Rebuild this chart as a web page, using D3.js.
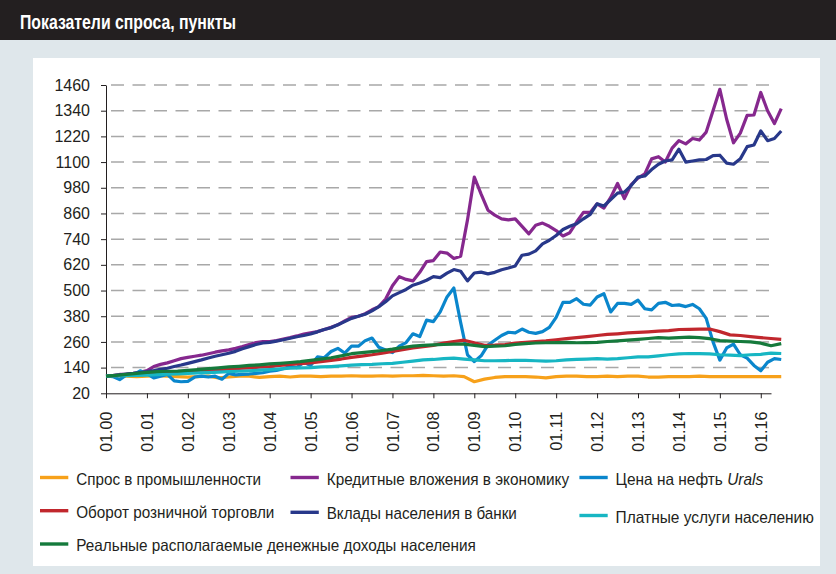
<!DOCTYPE html>
<html>
<head>
<meta charset="utf-8">
<script src="https://cdn.jsdelivr.net/npm/d3@7"></script>
<style>
  body { margin: 0; background: #fff; }
  svg { display: block; }
</style>
</head>
<body>
<script>
// tick labels
var xTickLabels = ["01.00","01.01","01.02","01.03","01.04","01.05","01.06","01.07","01.08",
                   "01.09","01.10","01.11","01.12","01.13","01.14","01.15","01.16"];
var yTicks = [20,140,260,380,500,620,740,860,980,1100,1220,1340,1460];

// quarterly values, Jan 2000 .. Jul 2016
var industryDemand = [100,102,100,98,100,102,100,98,96,98,
  100,92,96,100,100,94,98,100,96,100,
  100,98,100,100,102,100,100,102,100,102,
  102,104,102,100,102,98,74,86,94,98,
  98,98,96,92,98,100,100,98,98,100,
  98,100,100,96,96,98,98,98,100,98,
  98,98,98,98,98,98,98];
var retailTurnover = [100,102,104,106,109,112,114,117,120,123,
  126,130,133,136,139,142,145,150,155,158,
  162,168,174,180,188,194,200,208,216,224,
  232,238,244,255,262,268,256,244,245,248,
  254,258,262,265,270,275,280,285,290,295,
  298,302,305,307,310,313,318,319,320,320,
  308,293,290,285,280,276,272];
var paidServices = [100,101,103,104,105,107,109,111,113,115,
  117,119,121,123,125,128,131,134,137,139,
  140,143,145,148,152,154,155,158,160,165,
  170,176,178,182,184,180,176,172,172,173,
  174,174,172,170,172,176,178,180,182,180,
  182,186,190,190,195,200,204,206,205,204,
  200,198,196,200,202,208,206];
var realIncome = [100,104,108,113,118,121,123,124,127,131,
  135,139,143,146,150,153,157,160,164,168,
  174,180,186,195,205,210,215,220,226,234,
  240,244,246,248,250,250,244,238,240,242,
  248,252,255,256,257,258,256,257,258,262,
  265,268,272,276,280,278,280,282,280,275,
  266,264,262,260,254,242,252];

// every second month, Jan 2000 .. Jul 2016
var creditToEconomy = [100,103,108,110,113,118,126,145,155,162,
  172,182,188,193,198,205,212,218,223,230,
  238,248,257,261,262,266,273,280,288,297,
  303,308,318,328,340,358,375,380,392,410,
  425,460,522,565,552,545,585,635,640,680,
  675,650,660,830,1030,950,875,852,835,830,
  835,800,765,805,815,800,780,755,770,820,
  865,865,905,885,935,1000,930,995,1025,1045,
  1115,1125,1100,1165,1200,1185,1210,1203,1240,1340,
  1440,1300,1190,1235,1318,1320,1425,1340,1280,1350];
var householdDeposits = [100,103,106,110,113,117,121,126,132,137,
  145,152,160,168,176,185,193,200,207,216,
  228,238,248,255,258,264,270,277,284,290,
  297,307,318,326,340,355,370,380,389,405,
  425,448,475,490,505,525,535,548,565,560,
  581,598,590,545,582,586,578,585,597,605,
  615,665,670,685,718,735,757,785,800,812,
  835,856,905,895,925,955,960,990,1030,1035,
  1065,1090,1105,1110,1160,1100,1105,1110,1112,1130,
  1132,1095,1090,1115,1172,1180,1245,1200,1210,1245];
var uralsPrice = [101,98,84,106,105,125,112,92,100,108,
  78,74,76,96,100,96,100,86,113,106,
  108,110,113,116,123,127,135,145,140,165,
  150,190,186,215,230,208,240,240,266,278,
  235,222,210,240,257,298,285,362,355,400,
  470,512,350,200,168,195,245,268,290,305,
  302,320,305,300,308,328,375,445,445,462,
  436,432,470,485,400,440,440,435,455,415,
  410,440,445,430,433,425,435,415,370,260,
  175,232,250,200,184,150,125,165,182,178];

// series in legend order (later ones drawn on top)
var series = [
  {name: "Спрос в промышленности", values: industryDemand, step: 3, color: "#f7a11a"},
  {name: "Кредитные вложения в экономику", values: creditToEconomy, step: 2, color: "#86288e"},
  {name: "Цена на нефть ", italic: "Urals", values: uralsPrice, step: 2, color: "#0a86cc"},
  {name: "Оборот розничной торговли", values: retailTurnover, step: 3, color: "#c1272d"},
  {name: "Вклады населения в банки", values: householdDeposits, step: 2, color: "#28388a"},
  {name: "Платные услуги населению", values: paidServices, step: 3, color: "#17b6c3"},
  {name: "Реальные располагаемые денежные доходы населения", values: realIncome, step: 3, color: "#157a3c"}
];

var W = 836, H = 574;
var narrow = "'Liberation Sans Narrow', 'Arial Narrow', 'Liberation Sans', Arial, sans-serif";
var sans = "'Liberation Sans', Arial, sans-serif";

var svg = d3.select("body").append("svg")
    .attr("width", W)
    .attr("height", H);

// background, title bar, white panel
svg.append("rect").attr("width", W).attr("height", H).attr("fill", "#dfe7eb");
svg.append("rect").attr("width", W).attr("height", 40).attr("fill", "#231f20");
svg.append("text")
    .attr("x", 20).attr("y", 28.5)
    .attr("fill", "#fff")
    .attr("font-family", narrow)
    .attr("font-weight", "bold")
    .attr("font-size", "20px")
    .attr("textLength", 216)
    .attr("lengthAdjust", "spacingAndGlyphs")
    .text("Показатели спроса, пункты");
svg.append("rect")
    .attr("x", 33).attr("y", 58)
    .attr("width", 787).attr("height", 508)
    .attr("fill", "#fff");

// scales: x is month index from Jan 2000
var x = d3.scaleLinear().domain([0, 195]).range([106, 771]);
var y = d3.scaleLinear().domain([20, 1460]).range([393.3, 85]);

// dashed grid
svg.append("g")
  .selectAll("line")
  .data(yTicks.slice(1))
  .enter().append("line")
    .attr("x1", x(0) + 5).attr("x2", x(195))
    .attr("y1", function(d) { return y(d); })
    .attr("y2", function(d) { return y(d); })
    .attr("stroke", "#a8a8a8")
    .attr("stroke-width", 1.5)
    .attr("stroke-dasharray", "13,8.5");

// y axis
var yAxis = svg.append("g")
    .attr("transform", "translate(" + x(0) + ",0)")
    .call(d3.axisLeft(y).tickValues(yTicks).tickFormat(d3.format("d"))
      .tickSize(5).tickSizeOuter(0).tickPadding(11));
yAxis.selectAll("text")
    .attr("font-family", sans)
    .attr("font-size", "16px")
    .attr("fill", "#231f20");

// x axis
var xTicks = xTickLabels.map(function(d, i) { return i * 12; });
var xAxis = svg.append("g")
    .attr("transform", "translate(0," + y(20) + ")")
    .call(d3.axisBottom(x).tickValues(xTicks).tickSize(5).tickSizeOuter(0)
      .tickFormat(function(d, i) { return xTickLabels[i]; }));
xAxis.selectAll("text")
    .attr("transform", "rotate(-90)")
    .attr("x", -18.4)
    .attr("y", 0)
    .attr("dy", "0.35em")
    .style("text-anchor", "end")
    .attr("font-family", sans)
    .attr("font-size", "16px")
    .attr("fill", "#231f20");
svg.selectAll(".domain, .tick line").attr("stroke", "#231f20");

// lines
var line = d3.line()
    .x(function(d) { return x(d.m); })
    .y(function(d) { return y(d.v); });

svg.append("g")
  .selectAll("path")
  .data(series)
  .enter().append("path")
    .attr("d", function(s) {
      return line(s.values.map(function(v, i) { return {m: i * s.step, v: v}; }));
    })
    .attr("fill", "none")
    .attr("stroke", function(s) { return s.color; })
    .attr("stroke-width", 3.2)
    .attr("stroke-linejoin", "round");

// legend (x of the swatch, row y, label width)
var legendPos = [
  {x: 40, y: 477.5, w: 185},
  {x: 290.5, y: 477.5, w: 242.5},
  {x: 579.4, y: 477.5, w: 147.6},
  {x: 40, y: 510.7, w: 198.3},
  {x: 290.5, y: 512.3, w: 190.3},
  {x: 579.4, y: 515.5, w: 198.3},
  {x: 40, y: 544, w: 399.8}
];

var items = svg.append("g")
  .selectAll("g")
  .data(series)
  .enter().append("g")
    .attr("transform", function(d, i) {
      return "translate(" + legendPos[i].x + "," + legendPos[i].y + ")";
    });

items.append("line")
    .attr("x1", 0).attr("x2", 28.3)
    .attr("stroke", function(d) { return d.color; })
    .attr("stroke-width", 3.4);

var labels = items.append("text")
    .attr("font-family", sans)
    .attr("font-size", "16.5px")
    .attr("fill", "#231f20");
labels.append("tspan").text(function(d) { return d.name; });
labels.filter(function(d) { return d.italic; })
  .append("tspan")
    .attr("font-style", "italic")
    .text(function(d) { return d.italic; });

// squeeze each label to the width it has in the picture
labels.attr("transform", function(d, i) {
  var w0 = this.getComputedTextLength();
  return "translate(36.2,7) scale(" + (legendPos[i].w / w0) + ",1)";
});
</script>
</body>
</html>
